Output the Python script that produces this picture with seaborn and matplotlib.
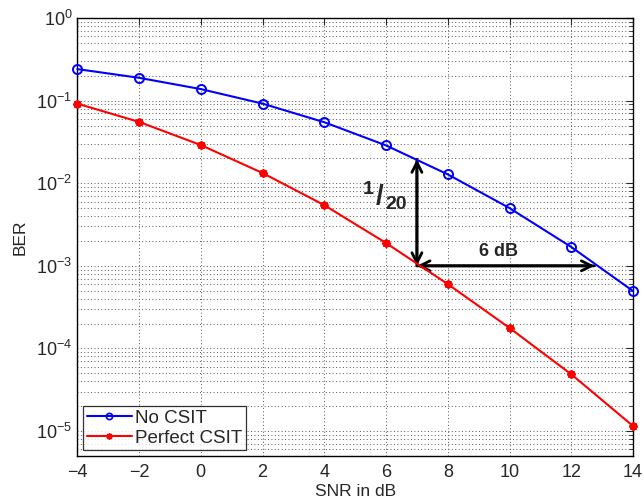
import numpy as np
import pandas as pd
import matplotlib
matplotlib.use("Agg")
import matplotlib.pyplot as plt
import seaborn as sns
from matplotlib.ticker import LogLocator, FixedLocator

snr = [-4, -2, 0, 2, 4, 6, 8, 10, 12, 14]
ber_no_csit = [0.241, 0.189, 0.138, 0.092, 0.0548, 0.0287, 0.0128, 0.0050, 0.00169, 0.000495]
ber_perfect_csit = [0.092, 0.0553, 0.029, 0.0133, 0.00543, 0.00189, 0.000601, 0.000177, 4.86e-5, 1.15e-5]
series_names = ["No CSIT", "Perfect CSIT"]
x_ticks = [-4, -2, 0, 2, 4, 6, 8, 10, 12, 14]

sns.set_style("white")
plt.rcParams["font.family"] = ["Liberation Sans", "DejaVu Sans"]
plt.rcParams["mathtext.fontset"] = "custom"
plt.rcParams["mathtext.rm"] = "Liberation Sans"
plt.rcParams["mathtext.bf"] = "Liberation Sans:bold"

fig = plt.figure(figsize=(6.44, 5.01), dpi=100)
ax = fig.add_axes([0.120, 0.090, 0.863, 0.874])

df1 = pd.DataFrame({"snr": snr, "ber": ber_no_csit})
df2 = pd.DataFrame({"snr": snr, "ber": ber_perfect_csit})
sns.lineplot(data=df1, x="snr", y="ber", ax=ax, color=(0, 0, 1), lw=1.5,
             marker="o", markersize=6.5, markerfacecolor="none",
             markeredgecolor=(0, 0, 1), markeredgewidth=1.4, label=series_names[0],
             clip_on=False, zorder=5)
sns.lineplot(data=df2, x="snr", y="ber", ax=ax, color=(1, 0, 0), lw=1.5,
             marker=(8, 2, 0), markersize=6, markeredgecolor=(1, 0, 0),
             markeredgewidth=1.4, label=series_names[1], clip_on=False, zorder=5)

ax.set_yscale("log")
ax.set_xlim(-4, 14)
ax.set_ylim(5e-6, 1)
ax.xaxis.set_major_locator(FixedLocator(x_ticks))
ax.yaxis.set_major_locator(LogLocator(base=10, numticks=10))
ax.yaxis.set_minor_locator(LogLocator(base=10, subs=np.arange(2, 10), numticks=20))
ax.set_xticklabels([("\u2212" + str(-t)) if t < 0 else str(t) for t in x_ticks])

ax.grid(True, which="major", axis="both", linestyle=(0, (1, 2.5)), color="#555555", lw=0.7)
ax.grid(True, which="minor", axis="y", linestyle=(0, (1, 2.5)), color="#555555", lw=0.7)
ax.tick_params(which="both", direction="in", top=True, right=True, labelsize=13)
ax.tick_params(which="major", length=5, width=0.8)
ax.tick_params(which="minor", length=3, width=0.6)
ax.tick_params(axis="x", pad=6)
for s in ax.spines.values():
    s.set_color("black")
    s.set_linewidth(1.0)

ax.set_xlabel("SNR in dB", fontsize=12.5, labelpad=2)
ax.set_ylabel("BER", fontsize=12.5, labelpad=6)

# annotations
arrow_kw = dict(arrowstyle="->", color="black", lw=2, mutation_scale=18, shrinkA=0, shrinkB=0)
ax.annotate("", xy=(7, 0.0195), xytext=(7, 1e-3), arrowprops=arrow_kw)
ax.annotate("", xy=(7, 1e-3), xytext=(7, 0.0195), arrowprops=arrow_kw)
ax.annotate("", xy=(12.75, 1e-3), xytext=(7, 1e-3), arrowprops=arrow_kw)
ax.annotate("", xy=(7, 1e-3), xytext=(12.75, 1e-3), arrowprops=arrow_kw)
ax.text(9.65, 1.5e-3, "6 dB", fontsize=13, fontweight="bold", ha="center", va="center")
ax.text(5.43, 8.3e-3, "1", fontsize=14, fontweight="bold", ha="center", va="center")
ax.text(5.78, 6.9e-3, "/", fontsize=20, fontweight="bold", ha="center", va="center")
ax.text(6.33, 5.6e-3, "20", fontsize=14, fontweight="bold", ha="center", va="center")

leg = ax.legend(loc="lower left", fontsize=13.5, frameon=True, fancybox=False,
                edgecolor="black", borderaxespad=0.3, handlelength=2.4,
                handletextpad=0.2, borderpad=0.2, labelspacing=0.15)
leg.get_frame().set_linewidth(0.9)
for h in leg.legend_handles:
    h.set_markersize(4.5)
    h.set_markeredgewidth(1.2)

fig.savefig("out.png", dpi=100)
